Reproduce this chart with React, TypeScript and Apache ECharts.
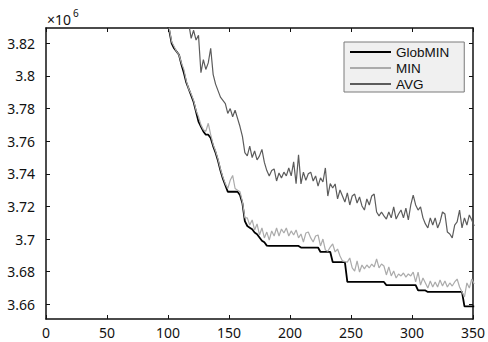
import React, { useEffect, useRef } from "react";
import * as echarts from "echarts";

// generations sampled every GEN_STEP, starting at GEN_START
const GEN_START = 99;
const GEN_STEP = 2;

// values in units of 10^6
const GLOBMIN = [
  3.835, 3.828, 3.820, 3.817, 3.815, 3.813, 3.807, 3.802, 3.796, 3.792,
  3.788, 3.784, 3.778, 3.772, 3.769, 3.766, 3.764, 3.764, 3.762, 3.757,
  3.753, 3.748, 3.742, 3.737, 3.733, 3.729, 3.729, 3.729, 3.729, 3.729,
  3.727, 3.722, 3.711, 3.708, 3.707, 3.706, 3.704, 3.703, 3.701, 3.699,
  3.698, 3.696, 3.6958, 3.6958, 3.6958, 3.6958, 3.6958, 3.6958, 3.6958, 3.6958,
  3.6958, 3.6958, 3.6958, 3.6958, 3.6958, 3.6948, 3.6948, 3.6948, 3.6948, 3.6948,
  3.6948, 3.6948, 3.6948, 3.6921, 3.6921, 3.6921, 3.6921, 3.6921, 3.6859, 3.6859,
  3.6859, 3.6859, 3.6859, 3.6859, 3.6737, 3.6737, 3.6737, 3.6737, 3.6737, 3.6737,
  3.6737, 3.6737, 3.6737, 3.6737, 3.6737, 3.6737, 3.6737, 3.6737, 3.6737, 3.6737,
  3.6718, 3.6718, 3.6718, 3.6718, 3.6718, 3.6718, 3.6718, 3.6718, 3.6718, 3.6718,
  3.6718, 3.6718, 3.6718, 3.6685, 3.6685, 3.6685, 3.6685, 3.6676, 3.6676, 3.6676,
  3.6676, 3.6676, 3.6676, 3.6676, 3.6676, 3.6676, 3.6676, 3.6676, 3.6676, 3.6676,
  3.6676, 3.6676, 3.6587, 3.6587, 3.6587, 3.6587, 3.6587,
];

const MIN = [
  3.836, 3.829, 3.821, 3.818, 3.815, 3.813, 3.808, 3.804, 3.797, 3.792,
  3.789, 3.785, 3.779, 3.775, 3.770, 3.767, 3.766, 3.771, 3.764, 3.758,
  3.754, 3.749, 3.743, 3.738, 3.734, 3.731, 3.736, 3.739, 3.731, 3.730,
  3.729, 3.723, 3.713, 3.713, 3.7086, 3.7117, 3.7056, 3.7093, 3.7025, 3.7068,
  3.7007, 3.7043, 3.6994, 3.705, 3.7019, 3.7068, 3.7019, 3.7062, 3.7037, 3.7068,
  3.7019, 3.705, 3.7025, 3.7056, 3.7007, 3.7031, 3.6982, 3.7037, 3.7043, 3.7007,
  3.6982, 3.7019, 3.7025, 3.6958, 3.7, 3.6933, 3.6925, 3.6951, 3.697, 3.6921,
  3.6939, 3.6896, 3.6866, 3.6862, 3.6859, 3.6884, 3.6823, 3.6804, 3.6866, 3.6798,
  3.6841, 3.6817, 3.6841, 3.6823, 3.6847, 3.6829, 3.6878, 3.6823, 3.6847, 3.6835,
  3.678, 3.6829, 3.6774, 3.6804, 3.6761, 3.6786, 3.6774, 3.6792, 3.6767, 3.6786,
  3.6774, 3.6798, 3.6737, 3.6798, 3.6718, 3.6761, 3.6731, 3.67, 3.6743, 3.6706,
  3.6737, 3.6706, 3.6749, 3.6712, 3.6743, 3.6706, 3.6731, 3.6712, 3.6737, 3.6755,
  3.6706, 3.6676, 3.6645, 3.6731, 3.67, 3.6755, 3.6724,
];

const AVG = [
  3.845, 3.845, 3.845, 3.845, 3.845, 3.845, 3.845, 3.842, 3.838, 3.832,
  3.823, 3.828, 3.822, 3.825, 3.802, 3.810, 3.804, 3.808, 3.817, 3.801,
  3.795, 3.791, 3.787, 3.785, 3.783, 3.777, 3.780, 3.775, 3.779, 3.774,
  3.769, 3.763, 3.753, 3.751, 3.757, 3.750, 3.754, 3.7485, 3.751, 3.755,
  3.747, 3.742, 3.7387, 3.742, 3.743, 3.7356, 3.7405, 3.7375, 3.741, 3.7387,
  3.7436, 3.7387, 3.7473, 3.734, 3.7516, 3.7338, 3.741, 3.736, 3.740, 3.741,
  3.7356, 3.7387, 3.7325, 3.7375, 3.735, 3.7436, 3.7264, 3.734, 3.7313, 3.7338,
  3.7246, 3.7301, 3.7264, 3.7227, 3.7283, 3.7209, 3.7264, 3.7276, 3.7221, 3.7258,
  3.7203, 3.7178, 3.7246, 3.7209, 3.7264, 3.7276, 3.7166, 3.7142, 3.7166, 3.7142,
  3.7123, 3.7166, 3.713, 3.7197, 3.7123, 3.7154, 3.7178, 3.713, 3.719, 3.7117,
  3.7209, 3.727, 3.7209, 3.7178, 3.7197, 3.713, 3.7093, 3.7068, 3.713, 3.7086,
  3.713, 3.7068, 3.7105, 3.7166, 3.7154, 3.7043, 3.7031, 3.7007, 3.7086, 3.7105,
  3.7178, 3.7068, 3.713, 3.7086, 3.7148, 3.7117, 3.708,
];

const SERIES_NAMES = ["GlobMIN", "MIN", "AVG"];
const X_MIN = 0;
const X_MAX = 350;
const X_INTERVAL = 50;
const Y_TICKS = [3.66, 3.68, 3.7, 3.72, 3.74, 3.76, 3.78, 3.8, 3.82];
const Y_MIN = 3.651;
const Y_MAX = 3.8294;

const FONT = "Noto Sans";
const LEGEND_FONT = "Liberation Sans";

function toPairs(vals: number[]) {
  return vals.map((v, i) => [GEN_START + GEN_STEP * i, v]);
}

export default function App() {
  const ref = useRef<HTMLDivElement>(null);
  useEffect(() => {
    if (!ref.current) return;
    document.body.style.margin = "0";
    const chart = echarts.init(ref.current, null, { renderer: "svg" });
    const axisLine = { show: true, onZero: false, lineStyle: { color: "#111", width: 1.5 } };
    const tick = { show: true, inside: true, length: 4, lineStyle: { color: "#111", width: 1 } };
    const label = { fontSize: 14, color: "#111", fontFamily: FONT };
    const xBase = { type: "value", min: X_MIN, max: X_MAX, interval: X_INTERVAL, splitLine: { show: false }, axisLine, axisTick: tick };
    const yBase = {
      type: "value",
      min: Y_MIN,
      max: Y_MAX,
      splitLine: { show: false },
      axisLine,
      axisTick: { ...tick, customValues: Y_TICKS },
    };
    const colors = ["#000000", "#ababab", "#5c5c5c"];
    const widths = [1.8, 1.2, 1.2];
    const data = [GLOBMIN, MIN, AVG];
    chart.setOption({
      animation: false,
      backgroundColor: "#ffffff",
      grid: { left: 46, right: 6, top: 28, bottom: 23 },
      xAxis: [
        { ...xBase, position: "bottom", axisLabel: { ...label, margin: 6 } },
        { ...xBase, position: "top", axisLabel: { show: false } },
      ],
      yAxis: [
        {
          ...yBase,
          position: "left",
          axisLabel: {
            ...label,
            margin: 11,
            customValues: Y_TICKS,
            formatter: (v: number) => String(+v.toFixed(2)),
          },
        },
        { ...yBase, position: "right", axisLabel: { show: false } },
      ],
      legend: {
        orient: "vertical",
        left: 344,
        top: 42,
        padding: [3, 15, 1, 5],
        itemWidth: 41,
        itemHeight: 14,
        itemGap: 2,
        backgroundColor: "#f0f0f0",
        borderColor: "#7a7a7a",
        borderWidth: 1,
        borderRadius: 0,
        textStyle: { fontSize: 13.5, color: "#111", fontFamily: LEGEND_FONT, lineHeight: 14 },
        itemStyle: { opacity: 0 },
        data: SERIES_NAMES,
      },
      graphic: [
        { type: "text", x: 47, y: 19, style: { text: "×10", fontSize: 14, fontFamily: FONT, fill: "#111", align: "left", verticalAlign: "middle" } },
        { type: "text", x: 73, y: 13, style: { text: "6", fontSize: 10, fontFamily: FONT, fill: "#111", align: "left", verticalAlign: "middle" } },
      ],
      series: SERIES_NAMES.map((name, i) => ({
        name,
        type: "line",
        xAxisIndex: 0,
        yAxisIndex: 0,
        data: toPairs(data[i]),
        symbol: "none",
        showSymbol: false,
        clip: true,
        lineStyle: { color: colors[i], width: widths[i] },
        itemStyle: { color: colors[i] },
        z: 2 + i,
      })),
    });
    return () => chart.dispose();
  }, []);
  return <div ref={ref} style={{ position: "absolute", left: 0, top: 0, width: 488, height: 342 }} />;
}
